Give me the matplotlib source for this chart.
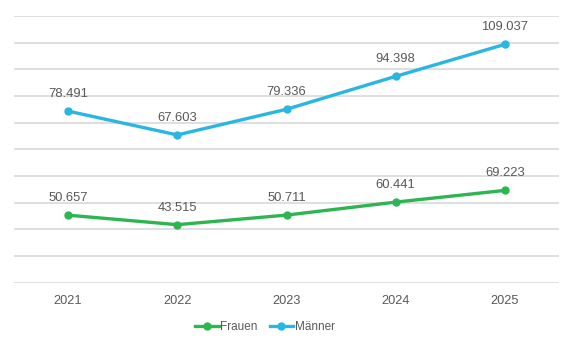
import matplotlib.pyplot as plt

# data
years = ["2021", "2022", "2023", "2024", "2025"]
frauen = [50657, 43515, 50711, 60441, 69223]
maenner = [78491, 67603, 79336, 94398, 109037]
labels_frauen = ["50.657", "43.515", "50.711", "60.441", "69.223"]
labels_maenner = ["78.491", "67.603", "79.336", "94.398", "109.037"]

green = "#2DB552"
blue = "#29B6E2"
textcol = "#595959"

plt.rcParams["font.family"] = ["Liberation Sans", "DejaVu Sans"]

fig = plt.figure(figsize=(5.73, 3.48), dpi=100)
ax = fig.add_axes([0.0236, 0.1876, 0.9528, 0.7664])
ax2 = ax.twinx()

x = list(range(len(years)))

l1, = ax.plot(x, frauen, color=green, lw=2.4, marker="o", ms=5, label="Frauen")
l2, = ax2.plot(x, maenner, color=blue, lw=2.4, marker="o", ms=5, label="Männer")

for xi, v, t in zip(x, frauen, labels_frauen):
    ax.annotate(t, (xi, v), xytext=(0, 8), textcoords="offset points",
                ha="center", va="bottom", fontsize=9.4, color=textcol)
for xi, v, t in zip(x, maenner, labels_maenner):
    ax2.annotate(t, (xi, v), xytext=(0, 8), textcoords="offset points",
                 ha="center", va="bottom", fontsize=9.4, color=textcol)

# primary axis: gridlines every 20000
ax.set_ylim(0, 200000)
ax.set_yticks(range(0, 200001, 20000))
ax.yaxis.grid(True, color="#d9d9d9", lw=1.2)
ax.set_axisbelow(True)
ax.tick_params(axis="y", left=False, labelleft=False)
ax2.set_ylim(0, 122000)
ax2.tick_params(axis="y", right=False, labelright=False)

ax.set_xlim(-0.5, 4.5)
ax.set_xticks(x)
ax.set_xticklabels(years, fontsize=9.2, color=textcol)
ax.tick_params(axis="x", length=0, pad=9)

for a in (ax, ax2):
    for s in a.spines.values():
        s.set_visible(False)

fig.legend(handles=[l1, l2], loc="center", bbox_to_anchor=(265 / 573, 1 - 327 / 348),
           ncol=2, frameon=False, fontsize=8.5, handlelength=2.0,
           handletextpad=0.15, columnspacing=1.0, labelcolor=textcol)

fig.savefig("out.png", dpi=100)
